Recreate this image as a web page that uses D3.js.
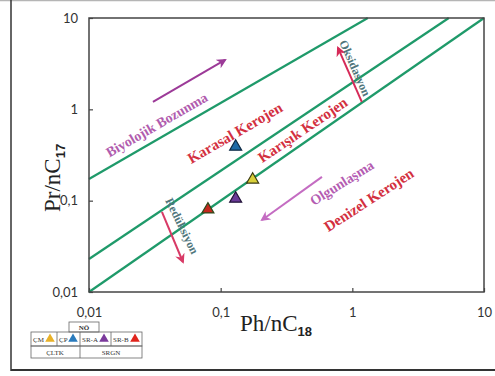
<!DOCTYPE html>
<html>
<head>
<meta charset="utf-8">
<style>
	body { margin: 0; background: #fff; }
	svg { display: block; }
</style>
</head>
<body>
<svg id="chart" width="495" height="376"></svg>
<script src="https://cdn.jsdelivr.net/npm/d3@7/dist/d3.min.js"></script>
<script>
	// tick values for both log axes
	var tickVals = [0.01, 0.1, 1, 10];

	// samples (Ph/nC18, Pr/nC17)
	var sampleNames = ["ÇM", "ÇP", "SR-A", "SR-B"];
	var phValues = [0.175, 0.13, 0.13, 0.08];
	var prValues = [0.17, 0.39, 0.105, 0.08];
	var sampleFill = ["#d8cf3a", "#1f6aa6", "#6a3a98", "#c4281e"];
	var sampleStroke = ["#3a3a10", "#0e2a44", "#221338", "#2d4a1c"];

	// boundary lines (start and end points in data units)
	var lineX0 = [0.01, 0.01, 0.01];
	var lineY0 = [0.173, 0.023, 0.01];
	var lineX1 = [1.31, 5.4, 10];
	var lineY1 = [10, 10, 10];

	// field labels
	var labelText = ["Biyolojik Bozunma", "Karasal Kerojen", "Karışık Kerojen", "Olgunlaşma", "Denizel Kerojen", "Oksidasyon", "Redüksiyon"];
	var labelX = [0.0328, 0.1285, 0.42, 0.834, 1.337, 1.047, 0.0508];
	var labelY = [0.675, 0.551, 0.595, 0.156, 0.102, 2.84, 0.0528];
	var labelAngle = [-30, -30, -34, -32, -33, 66, 64];
	var labelColor = ["#b15cae", "#d3303f", "#d3303f", "#b45cb2", "#d3303f", "#4f767c", "#4f767c"];
	var labelSize = [14, 15, 15, 14, 15, 12, 12];

	// arrows
	var arrowX0 = [0.0306, 0.588, 1.18, 0.0358];
	var arrowY0 = [1.205, 0.182, 1.205, 0.0752];
	var arrowX1 = [0.108, 0.206, 0.778, 0.0517];
	var arrowY1 = [3.47, 0.0615, 4.7, 0.0213];
	var arrowColor = ["#9c3a98", "#c46cc2", "#d62a58", "#d83a66"];

	var svg = d3.select("#chart");
	var pLeft = 89, pRight = 484, pTop = 18, pBottom = 292;

	var x = d3.scaleLog().domain([0.01, 10]).range([pLeft, pRight]);
	var y = d3.scaleLog().domain([0.01, 10]).range([pBottom, pTop]);
	var fmt = function(d){ return String(d).replace(".", ","); };

	// outer frame
	svg.append("line").attr("x1", 0).attr("x2", 495).attr("y1", 0.5).attr("y2", 0.5)
		.attr("stroke", "#b5b5b5").attr("stroke-width", 1.5);
	svg.append("line").attr("x1", 11).attr("x2", 11).attr("y1", 0).attr("y2", 371)
		.attr("stroke", "#333").attr("stroke-width", 1.5);
	svg.append("line").attr("x1", 11).attr("x2", 495).attr("y1", 370).attr("y2", 370)
		.attr("stroke", "#333").attr("stroke-width", 2);

	var defs = svg.append("defs");
	arrowColor.forEach(function(c, i){
		defs.append("marker").attr("id", "ah" + i)
			.attr("viewBox", "0 0 10 10").attr("refX", 8).attr("refY", 5)
			.attr("markerWidth", 5).attr("markerHeight", 5).attr("orient", "auto")
			.append("path").attr("d", "M0,0 L10,5 L0,10 L3,5 Z").attr("fill", c);
	});

	// axes
	var xAxis = d3.axisBottom(x).tickValues(tickVals).tickFormat(fmt).tickSizeInner(-4).tickSizeOuter(0).tickPadding(16);
	var yAxis = d3.axisLeft(y).tickValues(tickVals).tickFormat(fmt).tickSizeInner(-4).tickSizeOuter(0).tickPadding(11);
	var gx = svg.append("g").attr("transform", "translate(0," + pBottom + ")").call(xAxis);
	var gy = svg.append("g").attr("transform", "translate(" + pLeft + ",0)").call(yAxis);
	[gx, gy].forEach(function(g){
		g.select(".domain").remove();
		g.selectAll("line").attr("stroke", "#444").attr("stroke-width", 1.2);
		g.selectAll("text").attr("fill", "#333").style("font-family", "Lato, 'Open Sans', sans-serif").style("font-size", "13px");
	});

	// green boundary lines
	svg.selectAll(".bline").data(lineX0).enter().append("line")
		.attr("x1", function(d, i){ return x(lineX0[i]); })
		.attr("y1", function(d, i){ return y(lineY0[i]); })
		.attr("x2", function(d, i){ return x(lineX1[i]); })
		.attr("y2", function(d, i){ return y(lineY1[i]); })
		.attr("stroke", "#1f9a6a").attr("stroke-width", 2.2);

	// plot frame
	svg.append("rect").attr("x", pLeft).attr("y", pTop).attr("width", pRight - pLeft).attr("height", pBottom - pTop)
		.attr("fill", "none").attr("stroke", "#444").attr("stroke-width", 1.5);

	// arrows
	svg.selectAll(".arr").data(arrowX0).enter().append("line")
		.attr("x1", function(d, i){ return x(arrowX0[i]); })
		.attr("y1", function(d, i){ return y(arrowY0[i]); })
		.attr("x2", function(d, i){ return x(arrowX1[i]); })
		.attr("y2", function(d, i){ return y(arrowY1[i]); })
		.attr("stroke", function(d, i){ return arrowColor[i]; })
		.attr("stroke-width", 2)
		.attr("marker-end", function(d, i){ return "url(#ah" + i + ")"; });

	// labels
	svg.selectAll(".lab").data(labelText).enter().append("text")
		.attr("transform", function(d, i){ return "translate(" + x(labelX[i]) + "," + y(labelY[i]) + ") rotate(" + labelAngle[i] + ")"; })
		.attr("text-anchor", "middle").attr("dominant-baseline", "central")
		.style("font-family", "'Liberation Serif', 'DejaVu Serif', serif").style("font-weight", "bold")
		.style("font-size", function(d, i){ return labelSize[i] + "px"; })
		.attr("fill", function(d, i){ return labelColor[i]; })
		.text(function(d){ return d; });

	// samples
	var tri = d3.symbol().type(d3.symbolTriangle).size(62);
	svg.selectAll(".pt").data(sampleNames).enter().append("path")
		.attr("d", tri)
		.attr("transform", function(d, i){ return "translate(" + x(phValues[i]) + "," + y(prValues[i]) + ")"; })
		.attr("fill", function(d, i){ return sampleFill[i]; })
		.attr("stroke", function(d, i){ return sampleStroke[i]; })
		.attr("stroke-width", 1.2);

	// axis titles
	var xt = svg.append("text").attr("x", 240).attr("y", 331)
		.style("font-family", "'Liberation Serif', serif").style("font-size", "23px").attr("fill", "#222");
	xt.append("tspan").text("Ph/nC");
	xt.append("tspan").attr("dy", 5).style("font-family", "'Liberation Sans', sans-serif").style("font-weight", "bold").style("font-size", "13px").text("18");

	var yt = svg.append("text").attr("transform", "translate(60,212) rotate(-90)")
		.style("font-family", "'Liberation Serif', serif").style("font-size", "23px").attr("fill", "#222");
	yt.append("tspan").text("Pr/nC");
	yt.append("tspan").attr("dy", 5).style("font-family", "'Liberation Sans', sans-serif").style("font-weight", "bold").style("font-size", "13px").text("17");

	// legend table
	var lg = svg.append("g").attr("stroke", "#666").attr("stroke-width", 0.8).attr("fill", "none");
	lg.append("rect").attr("x", 69).attr("y", 322).attr("width", 30).attr("height", 10);
	lg.append("rect").attr("x", 31).attr("y", 332).attr("width", 111).attr("height", 14);
	lg.append("rect").attr("x", 31).attr("y", 346).attr("width", 111).attr("height", 12);
	[57, 80, 111].forEach(function(cx){
		lg.append("line").attr("x1", cx).attr("x2", cx).attr("y1", 332).attr("y2", 346);
	});
	lg.append("line").attr("x1", 80).attr("x2", 80).attr("y1", 346).attr("y2", 358);

	var legendCellX = [33, 59, 82, 113];
	var legendTriX = [50, 73, 104, 135];
	var lt = svg.append("g").style("font-family", "'Liberation Serif', serif").style("font-size", "7px").attr("fill", "#333");
	lt.append("text").attr("x", 84).attr("y", 330).attr("text-anchor", "middle").style("font-weight", "bold").text("NÖ");
	sampleNames.forEach(function(n, i){
		lt.append("text").attr("x", legendCellX[i]).attr("y", 342).text(n);
		svg.append("path").attr("d", d3.symbol().type(d3.symbolTriangle).size(40))
			.attr("transform", "translate(" + legendTriX[i] + ",339)")
			.attr("fill", ["#e8b128", "#2a7bbd", "#7b3a9c", "#e0241c"][i]);
	});
	lt.append("text").attr("x", 55).attr("y", 355).attr("text-anchor", "middle").text("ÇLTK");
	lt.append("text").attr("x", 111).attr("y", 355).attr("text-anchor", "middle").text("SRGN");
</script>
</body>
</html>
